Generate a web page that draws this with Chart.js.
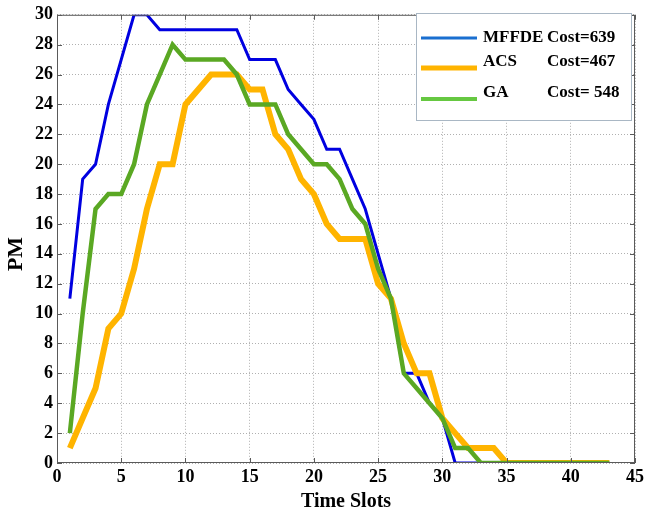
<!DOCTYPE html>
<html>
<head>
<meta charset="utf-8">
<script src="https://cdn.jsdelivr.net/npm/chart.js@4/dist/chart.umd.min.js"></script>
<style>
  html, body { margin: 0; padding: 0; background: #fff; }
  canvas { display: block; }
</style>
</head>
<body>
<canvas id="pmChart" width="648" height="515"></canvas>
<script>
// time slots on the x axis
const slots = [1, 2, 3, 4, 5, 6, 7, 8, 9, 10, 11, 12, 13, 14, 15, 16, 17, 18, 19, 20, 21, 22,
  23, 24, 25, 26, 27, 28, 29, 30, 31, 32, 33, 34, 35, 36, 37, 38, 39, 40, 41, 42, 43];

// PM count per slot for each algorithm
const mffde = [11, 19, 20, 24, 27, 30, 30, 29, 29, 29, 29, 29, 29, 29, 27, 27, 27, 25, 24, 23, 21, 21,
  19, 17, 14, 11, 6, 6, 4, 3, 0, 0, 0, 0, 0, 0, 0, 0, 0, 0, 0, 0, 0];
const acs = [1, 3, 5, 9, 10, 13, 17, 20, 20, 24, 25, 26, 26, 26, 25, 25, 22, 21, 19, 18, 16, 15,
  15, 15, 12, 11, 8, 6, 6, 3, 2, 1, 1, 1, 0, 0, 0, 0, 0, 0, 0, 0, 0];
const ga = [2, 10, 17, 18, 18, 20, 24, 26, 28, 27, 27, 27, 27, 26, 24, 24, 24, 22, 21, 20, 20, 19,
  17, 16, 13, 11, 6, 5, 4, 3, 1, 1, 0, 0, 0, 0, 0, 0, 0, 0, 0, 0, 0];

const seriesNames = ["MFFDE", "ACS", "GA"];
const costLabels = ["Cost=639", "Cost=467", "Cost= 548"];

const xTicks = [0, 5, 10, 15, 20, 25, 30, 35, 40, 45];
const yTicks = [0, 2, 4, 6, 8, 10, 12, 14, 16, 18, 20, 22, 24, 26, 28, 30];

const serif = "'Liberation Serif', 'DejaVu Serif', serif";

// box around the plot with short inward tick marks, y title and legend
const frame = {
  id: "frame",
  afterDraw(chart) {
    const { ctx, chartArea: a, scales: { x, y } } = chart;
    ctx.save();
    ctx.strokeStyle = "#5a5a5a";
    ctx.lineWidth = 1;
    ctx.strokeRect(a.left + 0.5, a.top + 0.5, a.right - a.left - 1, a.bottom - a.top - 1);

    ctx.beginPath();
    xTicks.forEach(v => {
      const px = Math.round(x.getPixelForValue(v)) + 0.5;
      ctx.moveTo(px, a.bottom); ctx.lineTo(px, a.bottom - 5);
      ctx.moveTo(px, a.top); ctx.lineTo(px, a.top + 5);
    });
    yTicks.forEach(v => {
      const py = Math.round(y.getPixelForValue(v)) + 0.5;
      ctx.moveTo(a.left, py); ctx.lineTo(a.left + 5, py);
      ctx.moveTo(a.right, py); ctx.lineTo(a.right - 5, py);
    });
    ctx.stroke();

    // y axis title
    ctx.fillStyle = "#000";
    ctx.font = "bold 22px " + serif;
    ctx.textAlign = "center";
    ctx.textBaseline = "middle";
    ctx.translate(16, 254);
    ctx.rotate(-Math.PI / 2);
    ctx.fillText("PM", 0, 0);
    ctx.restore();

    // legend
    const opts = chart.options.plugins.frame;
    ctx.save();
    ctx.fillStyle = "#fff";
    ctx.fillRect(416, 13, 216, 108);
    ctx.strokeStyle = "#a9b7c4";
    ctx.lineWidth = 1;
    ctx.strokeRect(416.5, 13.5, 215, 107);
    ctx.font = "bold 17px " + serif;
    ctx.textBaseline = "middle";
    ctx.fillStyle = "#000";
    const rows = [{ line: 38, text: 38 }, { line: 68, text: 62 }, { line: 99, text: 93 }];
    chart.data.datasets.forEach((ds, i) => {
      ctx.strokeStyle = opts.swatches[i];
      ctx.lineWidth = opts.swatchWidths[i];
      ctx.beginPath();
      ctx.moveTo(421, rows[i].line);
      ctx.lineTo(477, rows[i].line);
      ctx.stroke();
      ctx.fillText(ds.label, 483, rows[i].text);
      ctx.fillText(costLabels[i], 547, rows[i].text);
    });
    ctx.restore();
  }
};

const ctx = document.getElementById("pmChart").getContext("2d");

new Chart(ctx, {
  type: "line",
  data: {
    labels: slots,
    datasets: [
      { label: seriesNames[0], data: mffde, borderColor: "#0000e0", borderWidth: 3, order: 2 },
      { label: seriesNames[1], data: acs, borderColor: "#ffb400", borderWidth: 6, order: 1 },
      { label: seriesNames[2], data: ga, borderColor: "#5aa823", borderWidth: 4.5, order: 0 },
    ],
  },
  options: {
    responsive: false,
    animation: false,
    devicePixelRatio: 1,
    layout: { padding: { top: 9, right: 12, left: 0, bottom: 0 } },
    elements: {
      point: { radius: 0 },
      line: { tension: 0, fill: false, borderCapStyle: "butt", borderJoinStyle: "miter" },
    },
    plugins: {
      legend: { display: false },
      tooltip: { enabled: false },
      frame: {
        swatches: ["#1a6fd0", "#ffb400", "#66c841"],
        swatchWidths: [3, 5, 4],
      },
    },
    scales: {
      x: {
        type: "linear",
        min: 0,
        max: 45,
        afterFit: s => { s.height = 52; },
        afterBuildTicks: s => { s.ticks = xTicks.map(v => ({ value: v })); },
        ticks: {
          color: "#000",
          font: { family: serif, size: 18, weight: "bold" },
          padding: 4,
          maxRotation: 0,
        },
        grid: { color: "#b0b0b0", drawTicks: false },
        border: { display: false, dash: [1, 2] },
        title: {
          display: true,
          text: "Time Slots",
          color: "#000",
          font: { family: serif, size: 20, weight: "bold" },
          padding: { top: 0, bottom: 1 },
        },
      },
      y: {
        min: 0,
        max: 30,
        afterFit: s => { s.width = 57; },
        afterBuildTicks: s => { s.ticks = yTicks.map(v => ({ value: v })); },
        ticks: {
          color: "#000",
          font: { family: serif, size: 18, weight: "bold" },
          padding: 4,
        },
        grid: { color: "#b0b0b0", drawTicks: false },
        border: { display: false, dash: [1, 2] },
      },
    },
  },
  plugins: [frame],
});
</script>
</body>
</html>
